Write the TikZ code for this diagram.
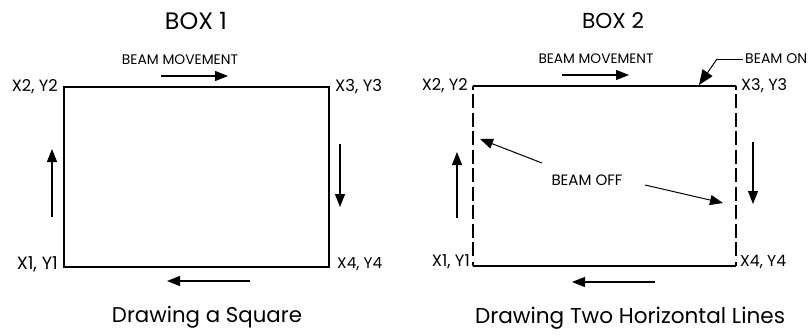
\documentclass[tikz,border=0pt]{standalone}
\usepackage{fontspec}
\usepackage{graphicx}
\setmainfont{Poppins}
\usetikzlibrary{arrows.meta}
\newcommand{\fw}[2]{\resizebox{#1pt}{!}{#2}}
\tikzset{
  lbl/.style={inner sep=0pt, anchor=center},
  boxline/.style={line width=1.3pt},
  offline/.style={line width=1.1pt, dash pattern=on 14pt off 4.5pt},
  mv/.style={line width=1.1pt, -{Triangle[length=13pt,width=10pt]}},
  lead/.style={line width=1pt, -{Triangle[length=15pt,width=12pt]}},
}
\begin{document}
\begin{tikzpicture}[x=1pt,y=-1pt]
\useasboundingbox[fill=white] (0,0) rectangle (810,335);
% ---------- BOX 1 ----------
\coordinate (a1) at (64,267);
\coordinate (a2) at (64,87);
\coordinate (a3) at (329,87);
\coordinate (a4) at (329,267);
\draw[boxline] (a1) -- (a2) -- (a3) -- (a4) -- cycle;
\node[lbl] (t1) at (196,21) {\fw{62}{BOX 1}};
\node[lbl] (bm1) at (180,60) {\fw{116}{BEAM MOVEMENT}};
\node[lbl, anchor=east] (l2a) at (58,87) {\fw{46}{X2, Y2}};
\node[lbl, anchor=west] (l3a) at (335,87) {\fw{47}{X3, Y3}};
\node[lbl, anchor=east] (l1a) at (58,264) {\fw{41}{X1, Y1}};
\node[lbl, anchor=west] (l4a) at (337,264) {\fw{45}{X4, Y4}};
\node[lbl] (c1) at (207,317) {\fw{190}{Drawing a Square}};
\coordinate (ua0) at (52,217); \coordinate (ua1) at (52,149);
\coordinate (ra0) at (340,144); \coordinate (ra1) at (340,207);
\coordinate (ta0) at (161,76); \coordinate (ta1) at (228,76);
\coordinate (ba0) at (250,281); \coordinate (ba1) at (167,281);
\draw[mv] (ua0) -- (ua1);
\draw[mv] (ra0) -- (ra1);
\draw[mv] (ta0) -- (ta1);
\draw[mv] (ba0) -- (ba1);
% ---------- BOX 2 ----------
\coordinate (b1) at (473,266);
\coordinate (b2) at (473,86);
\coordinate (b3) at (736,86);
\coordinate (b4) at (736,266);
\draw[boxline] (b2) -- (b3);
\draw[boxline] (b1) -- (b4);
\draw[boxline] (b2) -- ++(0,4);
\draw[boxline] (b3) -- ++(0,4);
\draw[boxline] (b1) -- ++(0,-4);
\draw[boxline] (b4) -- ++(0,-4);
\draw[offline] ([yshift=-8pt]b2) -- ([yshift=7pt]b1);
\draw[offline] ([yshift=-8pt]b3) -- ([yshift=7pt]b4);
\node[lbl] (t2) at (613,21) {\fw{62}{BOX 2}};
\node[lbl] (bm2) at (596,59) {\fw{115}{BEAM MOVEMENT}};
\node[lbl, anchor=west] (bon) at (745,59) {\fw{62}{BEAM ON}};
\node[lbl] (boff) at (587,180) {\fw{71}{BEAM OFF}};
\node[lbl, anchor=east] (l2b) at (468,86) {\fw{46}{X2, Y2}};
\node[lbl, anchor=west] (l3b) at (741,86) {\fw{46}{X3, Y3}};
\node[lbl, anchor=east] (l1b) at (470,262) {\fw{38}{X1, Y1}};
\node[lbl, anchor=west] (l4b) at (740,262) {\fw{46}{X4, Y4}};
\node[lbl] (c2) at (630,318) {\fw{310}{Drawing Two Horizontal Lines}};
\coordinate (ub0) at (457,218); \coordinate (ub1) at (457,152);
\coordinate (rb0) at (753,142); \coordinate (rb1) at (753,204);
\coordinate (tb0) at (562,75); \coordinate (tb1) at (629,75);
\coordinate (bb0) at (655,282); \coordinate (bb1) at (572,282);
\draw[mv] (ub0) -- (ub1);
\draw[mv] (rb0) -- (rb1);
\draw[mv] (tb0) -- (tb1);
\draw[mv] (bb0) -- (bb1);
% leaders
\coordinate (onk) at (717,59);
\coordinate (ontip) at (699,85);
\draw[line width=1pt] ([xshift=-2pt]bon.west) -- (onk);
\draw[lead] (onk) -- (ontip);
\coordinate (of0) at (542,163); \coordinate (of1) at (480,139);
\coordinate (of2) at (645,185); \coordinate (of3) at (723,203);
\draw[mv, line width=1pt] (of0) -- (of1);
\draw[mv, line width=1pt] (of2) -- (of3);
\end{tikzpicture}
\end{document}
